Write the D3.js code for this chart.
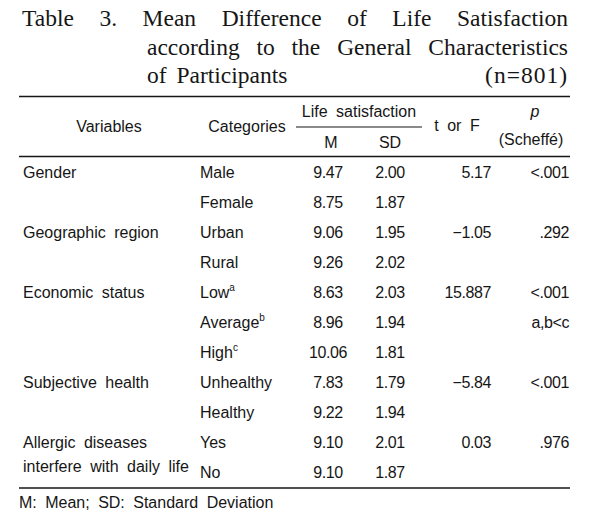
<!DOCTYPE html>
<html><head><meta charset="utf-8">
<script src="https://cdn.jsdelivr.net/npm/d3@7"></script>
<style>
html,body{margin:0;padding:0;background:#fff;}
svg{display:block;}
</style></head>
<body>
<svg id="chart" width="593" height="521"></svg>
<script>
// ---- data ----
const titleLines = [
  ["Table","3.","Mean","Difference","of","Life","Satisfaction"],
  ["according","to","the","General","Characteristics"]
];
const titleLast = "of Participants";
const titleN = "(n=801)";
const variableNames = [["Gender"],["Geographic region"],["Economic status"],["Subjective health"],["Allergic diseases","interfere with daily life"]];
const categories = ["Male","Female","Urban","Rural","Low","Average","High","Unhealthy","Healthy","Yes","No"];
const categorySup = ["","","","","a","b","c","","","",""];
const groupStart = [0,2,4,7,9];
const meanValues = [9.47,8.75,9.06,9.26,8.63,8.96,10.06,7.83,9.22,9.10,9.10];
const sdValues = [2.00,1.87,1.95,2.02,2.03,1.94,1.81,1.79,1.94,2.01,1.87];
const tValues = ["5.17","\u22121.05","15.887","\u22125.84","0.03"];
const pValues = ["<.001",".292","<.001","<.001",".976"];
const scheffeNotes = ["","","a,b<c","",""];
const footnote = "M: Mean; SD: Standard Deviation";

// ---- drawing ----
const svg = d3.select("#chart");
const ink = "#161616";
const sans = "'Liberation Sans', Arial, sans-serif";
const serif = "'Liberation Serif', 'Times New Roman', serif";

// title, justified
const titleG = svg.append("g").attr("font-family", serif).attr("font-size", 23.5).attr("fill", ink);
function justify(words, x0, x1, y) {
  const nodes = words.map(w => titleG.append("text").attr("y", y).text(w));
  const widths = nodes.map(n => n.node().getComputedTextLength());
  const total = d3.sum(widths);
  const gap = (x1 - x0 - total) / (words.length - 1);
  let x = x0;
  nodes.forEach((n, i) => { n.attr("x", x); x += widths[i] + gap; });
}
const titleY = d3.scaleLinear().domain([0, 2]).range([26, 83]);
justify(titleLines[0], 22, 568, titleY(0));
justify(titleLines[1], 147, 568, titleY(1));
titleG.append("text").attr("x", 147).attr("y", titleY(2)).attr("word-spacing", 4).text(titleLast);
titleG.append("text").attr("x", 568).attr("y", titleY(2)).attr("text-anchor", "end").attr("letter-spacing", 1).text(titleN);

// rules
const tableX = [19, 570];
function rule(y, x0, x1, w) {
  svg.append("line").attr("x1", x0).attr("x2", x1).attr("y1", y).attr("y2", y)
    .attr("stroke", ink).attr("stroke-width", w);
}
rule(96.5, tableX[0], tableX[1], 1.7);
rule(156.5, tableX[0], tableX[1], 1.7);
rule(488, tableX[0], tableX[1], 1.7);
rule(127, 296, 422, 1.1);

const g = svg.append("g").attr("font-family", sans).attr("font-size", 16).attr("fill", ink).attr("word-spacing", 4);

// header
const col = { variable: 23, category: 200, mean: 328, sd: 390, t: 491, p: 569 };
g.append("text").attr("x", 109).attr("y", 132).attr("text-anchor", "middle").text("Variables");
g.append("text").attr("x", 247).attr("y", 132).attr("text-anchor", "middle").text("Categories");
g.append("text").attr("x", 359).attr("y", 117).attr("text-anchor", "middle").text("Life satisfaction");
g.append("text").attr("x", col.mean + 3).attr("y", 148).attr("text-anchor", "middle").text("M");
g.append("text").attr("x", col.sd).attr("y", 148).attr("text-anchor", "middle").text("SD");
g.append("text").attr("x", 457).attr("y", 131).attr("text-anchor", "middle").text("t or F");
g.append("text").attr("x", 535).attr("y", 117).attr("text-anchor", "middle").attr("font-style", "italic").text("p");
g.append("text").attr("x", 531).attr("y", 145).attr("text-anchor", "middle").text("(Scheffé)");

// rows
const rowY = d3.scaleLinear().domain([0, categories.length - 1]).range([178, 478]);
const fmt = d3.format(".2f");

categories.forEach((c, i) => {
  const t = g.append("text").attr("x", col.category).attr("y", rowY(i)).text(c);
  if (categorySup[i]) {
    t.append("tspan").attr("font-size", 10).attr("dy", -7).text(categorySup[i]);
  }
  g.append("text").attr("x", col.mean).attr("y", rowY(i)).attr("text-anchor", "middle").attr("letter-spacing", -0.4).text(fmt(meanValues[i]));
  g.append("text").attr("x", col.sd).attr("y", rowY(i)).attr("text-anchor", "middle").attr("letter-spacing", -0.4).text(fmt(sdValues[i]));
});

variableNames.forEach((lines, k) => {
  const y0 = rowY(groupStart[k]);
  lines.forEach((ln, j) => {
    g.append("text").attr("x", col.variable).attr("y", y0 + j * 24).text(ln);
  });
  g.append("text").attr("x", col.t).attr("y", y0).attr("text-anchor", "end").attr("letter-spacing", -0.4).text(tValues[k]);
  g.append("text").attr("x", col.p).attr("y", y0).attr("text-anchor", "end").attr("letter-spacing", -0.4).text(pValues[k]);
  if (scheffeNotes[k]) {
    g.append("text").attr("x", col.p).attr("y", rowY(groupStart[k] + 1)).attr("text-anchor", "end").attr("letter-spacing", -0.4).text(scheffeNotes[k]);
  }
});

// footnote
g.append("text").attr("x", 19).attr("y", 508).text(footnote);
</script>
</body></html>
